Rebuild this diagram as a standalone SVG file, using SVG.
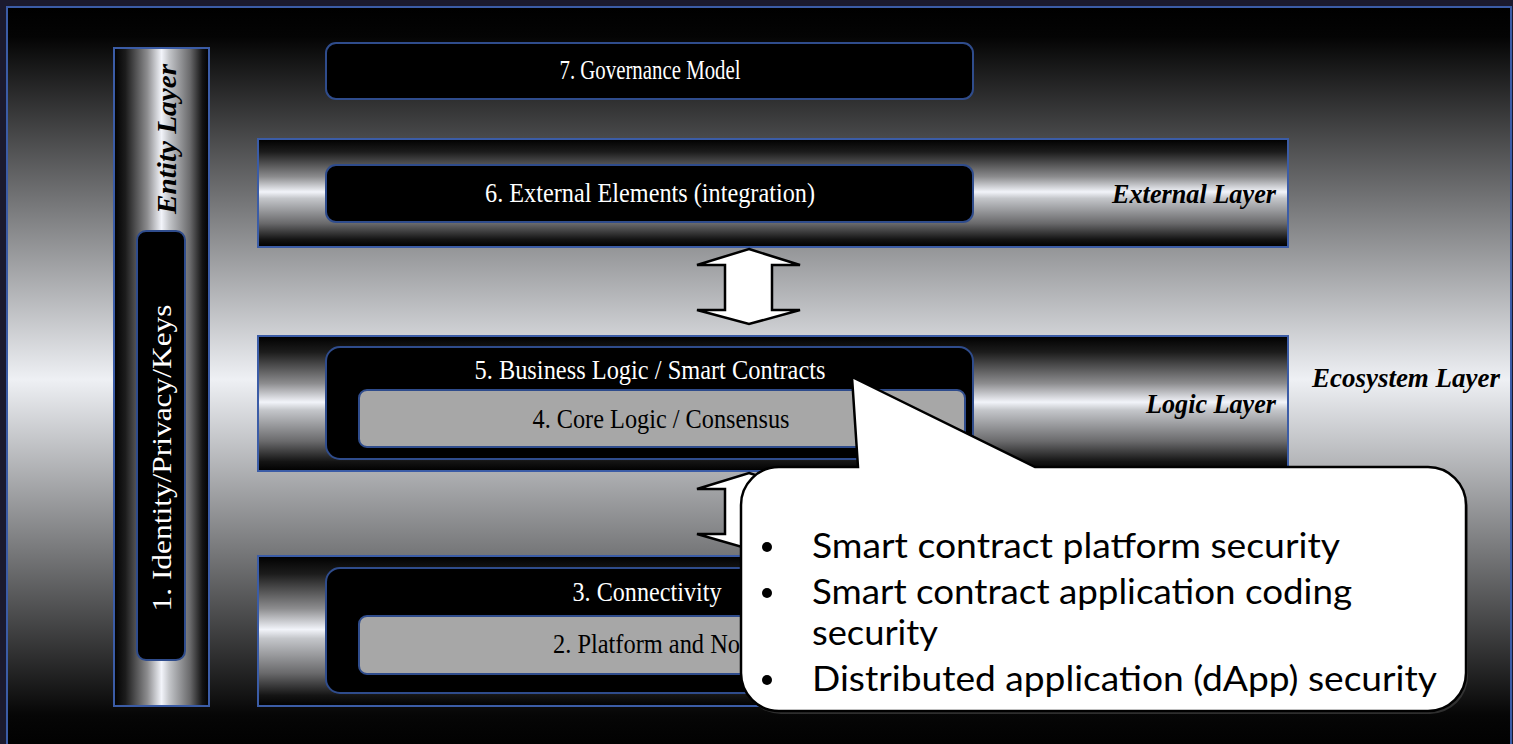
<svg xmlns="http://www.w3.org/2000/svg" width="1513" height="744" viewBox="0 0 1513 744">
  <defs>
    <!-- slide backdrop: dark at top and bottom, bright in the middle -->
    <linearGradient id="bgGrad" x1="0" y1="0" x2="0" y2="1">
      <stop offset="0" stop-color="#000"/>
      <stop offset="0.04" stop-color="#040404"/>
      <stop offset="0.5" stop-color="#eef0f4"/>
      <stop offset="0.95" stop-color="#060606"/>
      <stop offset="1" stop-color="#000"/>
    </linearGradient>
    <!-- metallic cylinder look for horizontal layers -->
    <linearGradient id="barH" x1="0" y1="0" x2="0" y2="1">
      <stop offset="0" stop-color="#000"/>
      <stop offset="0.12" stop-color="#1c1c1c"/>
      <stop offset="0.35" stop-color="#8c8c8e"/>
      <stop offset="0.49" stop-color="#f2f4fa"/>
      <stop offset="0.55" stop-color="#c4c6ca"/>
      <stop offset="0.78" stop-color="#6a6a6c"/>
      <stop offset="0.93" stop-color="#141414"/>
      <stop offset="1" stop-color="#000"/>
    </linearGradient>
    <!-- same finish for the vertical entity column -->
    <linearGradient id="barV" x1="0" y1="0" x2="1" y2="0">
      <stop offset="0" stop-color="#000"/>
      <stop offset="0.12" stop-color="#1c1c1c"/>
      <stop offset="0.35" stop-color="#8c8c8e"/>
      <stop offset="0.5" stop-color="#f2f4fa"/>
      <stop offset="0.58" stop-color="#c4c6ca"/>
      <stop offset="0.8" stop-color="#6a6a6c"/>
      <stop offset="0.93" stop-color="#141414"/>
      <stop offset="1" stop-color="#000"/>
    </linearGradient>
    <style>
      .layer { stroke: #3b5ca6; stroke-width: 2; }
      .dark { fill: #000; stroke: #2f4c8c; stroke-width: 2; }
      .grey { fill: #a7a7a7; stroke: #2f4c8c; stroke-width: 2; }
      .lbl { font-family: "Liberation Serif", "Times New Roman", serif; font-size: 27px; text-anchor: middle; }
      .wt { fill: #fff; }
      .bk { fill: #000; }
      .layername { font-family: "Liberation Serif", "Times New Roman", serif; font-size: 28px; font-weight: bold; font-style: italic; fill: #000; }
      .arrow { fill: #fff; stroke: #000; stroke-width: 2.5; stroke-linejoin: miter; }
      .note { font-family: Lato, "Open Sans", "DejaVu Sans", sans-serif; font-size: 35px; fill: #000; }
    </style>
  </defs>

  <!-- page and framed backdrop -->
  <rect x="0" y="0" width="1513" height="744" fill="#1b1a2e"/>
  <rect x="7" y="7" width="1504" height="745" fill="url(#bgGrad)" stroke="#3b5ca6" stroke-width="2"/>

  <!-- entity column -->
  <g id="entity-layer">
    <rect class="layer" x="114" y="48" width="95" height="658" fill="url(#barV)"/>
    <text class="layername" transform="translate(176,139) rotate(-90)" text-anchor="middle" textLength="150" lengthAdjust="spacingAndGlyphs">Entity Layer</text>
  </g>
  <g id="identity">
    <rect class="dark" x="137" y="231" width="48" height="429" rx="9"/>
    <text class="lbl wt" transform="translate(171,458) rotate(-90)" textLength="307" lengthAdjust="spacingAndGlyphs">1. Identity/Privacy/Keys</text>
  </g>

  <!-- governance -->
  <g id="governance">
    <rect class="dark" x="326" y="43" width="647" height="56" rx="10"/>
    <text class="lbl wt" x="650" y="79" textLength="181" lengthAdjust="spacingAndGlyphs">7. Governance Model</text>
  </g>

  <!-- external layer -->
  <g id="external-layer">
    <rect class="layer" x="258" y="139" width="1030" height="108" fill="url(#barH)"/>
    <text class="layername" x="1112" y="203" textLength="164" lengthAdjust="spacingAndGlyphs">External Layer</text>
  </g>
  <g id="external-elements">
    <rect class="dark" x="326" y="165" width="647" height="57" rx="10"/>
    <text class="lbl wt" x="650" y="202" textLength="330" lengthAdjust="spacingAndGlyphs">6. External Elements (integration)</text>
  </g>

  <!-- logic layer -->
  <g id="logic-layer">
    <rect class="layer" x="258" y="336" width="1030" height="135" fill="url(#barH)"/>
    <text class="layername" x="1146" y="413" textLength="130" lengthAdjust="spacingAndGlyphs">Logic Layer</text>
  </g>
  <g id="business-logic">
    <rect class="dark" x="326" y="347" width="647" height="112" rx="14"/>
    <text class="lbl wt" x="650" y="379" textLength="351" lengthAdjust="spacingAndGlyphs">5. Business Logic / Smart Contracts</text>
  </g>
  <g id="core-logic">
    <rect class="grey" x="359" y="390" width="606" height="57" rx="8"/>
    <text class="lbl bk" x="661" y="428" textLength="257" lengthAdjust="spacingAndGlyphs">4. Core Logic / Consensus</text>
  </g>

  <!-- ecosystem label -->
  <g id="ecosystem-layer">
    <text class="layername" x="1312" y="387" textLength="188" lengthAdjust="spacingAndGlyphs">Ecosystem Layer</text>
  </g>

  <!-- platform layer -->
  <g id="platform-layer">
    <rect class="layer" x="258" y="556" width="1030" height="150" fill="url(#barH)"/>
  </g>
  <g id="connectivity">
    <rect class="dark" x="326" y="568" width="647" height="125" rx="14"/>
    <text class="lbl wt" x="647" y="601" textLength="149" lengthAdjust="spacingAndGlyphs">3. Connectivity</text>
  </g>
  <g id="platform-nodes">
    <rect class="grey" x="359" y="616" width="606" height="58" rx="8"/>
    <text class="lbl bk" x="553" y="653" style="text-anchor:start" textLength="210" lengthAdjust="spacingAndGlyphs">2. Platform and Node</text>
  </g>

  <!-- two-way arrows between layers -->
  <g id="connectors">
    <polygon class="arrow" points="749,249 800,265 772,265 772,310 800,310 749,324 697,310 725,310 725,265 697,265"/>
    <polygon class="arrow" points="749,473 800,489 772,489 772,534 800,534 749,549 697,534 725,534 725,489 697,489"/>
  </g>

  <!-- security callout pointing at the smart contract layer -->
  <g id="callout">
    <path d="M779,467 L858,467 L852,377 L1035,467 L1428,467 A38,38 0 0 1 1466,505 L1466,673 A38,38 0 0 1 1428,711 L779,711 A38,38 0 0 1 741,673 L741,505 A38,38 0 0 1 779,467 Z" fill="#4a4a4a" opacity="0.6" transform="translate(2,3)"/>
    <path d="M779,467 L858,467 L852,377 L1035,467 L1428,467 A38,38 0 0 1 1466,505 L1466,673 A38,38 0 0 1 1428,711 L779,711 A38,38 0 0 1 741,673 L741,505 A38,38 0 0 1 779,467 Z" fill="#fff" stroke="#000" stroke-width="2.5" stroke-linejoin="miter"/>
    <circle cx="767" cy="547" r="5"/>
    <circle cx="767" cy="593" r="5"/>
    <circle cx="767" cy="680" r="5"/>
    <text class="note" x="812" y="558" textLength="528" lengthAdjust="spacingAndGlyphs">Smart contract platform security</text>
    <text class="note" x="812" y="604" textLength="540" lengthAdjust="spacingAndGlyphs">Smart contract application coding</text>
    <text class="note" x="812" y="645" textLength="126" lengthAdjust="spacingAndGlyphs">security</text>
    <text class="note" x="812" y="691" textLength="625" lengthAdjust="spacingAndGlyphs">Distributed application (dApp) security</text>
  </g>
</svg>
